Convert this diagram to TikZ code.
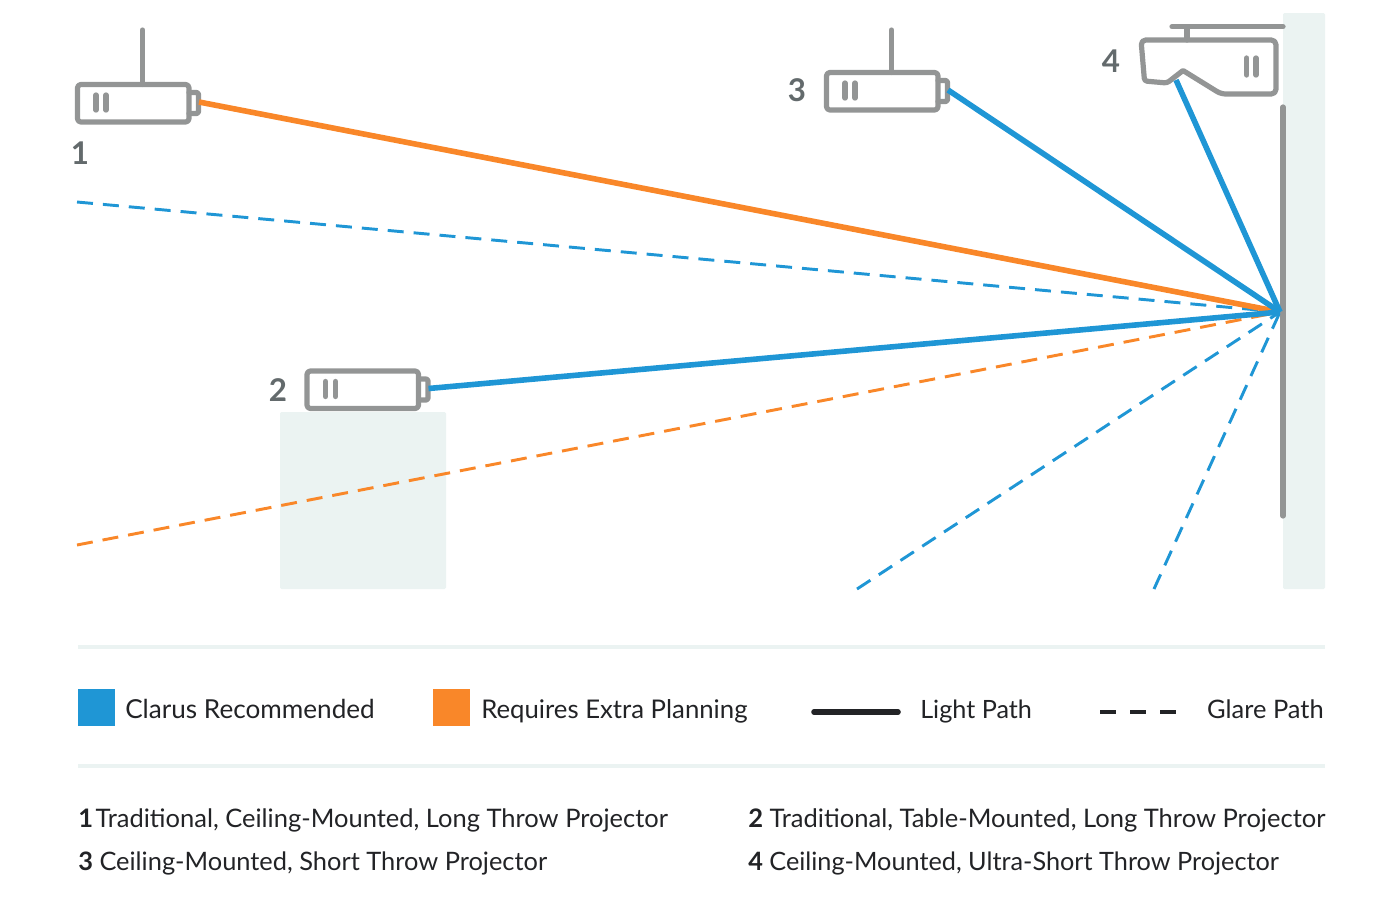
\documentclass[tikz,border=0pt]{standalone}
\usepackage{fontspec}
\setmainfont{Lato}
\definecolor{clblue}{HTML}{1F96D5}
\definecolor{clorange}{HTML}{F98729}
\definecolor{clgray}{HTML}{939595}
\definecolor{clpale}{HTML}{EBF3F2}
\definecolor{cllabel}{HTML}{636A6C}
\definecolor{cltext}{HTML}{222326}
\tikzset{
  outline/.style={draw=clgray,line width=3.9pt,line join=round,line cap=round,rounded corners=2.5pt},
  barline/.style={draw=clgray,line width=4pt,line cap=round},
  lightpath/.style={line width=4.2pt},
  glarepath/.style={line width=2.2pt,dash pattern=on 12pt off 7.5pt},
  numlabel/.style={anchor=base,font=\fontsize{23.5}{25}\selectfont\bfseries,text=cllabel,inner sep=0pt},
  legendtext/.style={anchor=base west,font=\fontsize{#1}{22}\selectfont,text=cltext,inner sep=0pt},
  legendtext/.default=19.6,
  swatch/.style={anchor=north west,minimum width=27.75pt,minimum height=27.75pt,inner sep=0pt,draw=none},
  panel/.style={fill=clpale,rounded corners=1pt,draw=none},
  divider/.style={draw=clpale,line width=3.6pt},
}
\newcommand{\projbody}[3]{%
  \begin{scope}[shift={(#1,#2)}]
    \draw[outline] (77.5,84.5) rectangle (189,122);
    \draw[outline,rounded corners=1.5pt] (189,92.5) -- (198.5,92.5) -- (198.5,113.5) -- (189,113.5);
    \draw[barline] (96,95) -- (96,110);
    \draw[barline] (106,95) -- (106,110);
    \coordinate (#3) at (199,102);
  \end{scope}}
\begin{document}
\begin{tikzpicture}[x=0.75pt,y=-0.75pt]
\useasboundingbox (0,0) rectangle (1400,900);
% wall and table
\fill[panel] (1283,13) rectangle (1325,589);
\fill[panel] (280,412) rectangle (446,589);
\coordinate (focus) at (1280,312);
% glare ends
\coordinate (g1) at (77,202);
\coordinate (g2) at (77,545);
\coordinate (g3) at (857,589);
\coordinate (g4) at (1154,589);
% projectors
\projbody{0}{0}{lens1}
\draw[outline] (142.5,30) -- (142.5,84.5);
\projbody{229.5}{286.5}{lens2}
\projbody{749}{-12}{lens3}
\draw[outline] (891.5,30) -- (891.5,72.5);
% projector 4
\draw[outline,rounded corners=3.5pt] (1141,40) -- (1276,40) -- (1276,94) -- (1221,94) [rounded corners=0.5pt] -- (1183,70.5) [rounded corners=2pt] -- (1167,83) -- (1144.5,81) [rounded corners=3.5pt] -- cycle;
\draw[barline] (1246.7,58) -- (1246.7,75);
\draw[barline] (1256,58) -- (1256,75);
\draw[outline] (1172,26.7) -- (1283,26.7);
\draw[outline] (1187,26.7) -- (1187,40);
\coordinate (lens4) at (1176,80);
% glare paths
\draw[glarepath,clblue] (g1) -- (focus);
\draw[glarepath,clorange] (g2) -- (focus);
\draw[glarepath,clblue] (g3) -- (focus);
\draw[glarepath,clblue] (g4) -- (focus);
% screen
\draw[draw=clgray,line width=3.9pt,line cap=round] (1283,107) -- (1283,516);
% light paths
\draw[lightpath,clorange] (lens1) -- (focus);
\draw[lightpath,clblue] (lens3) -- (focus);
\draw[lightpath,clblue] (lens4) -- (focus);
\draw[lightpath,clblue] (lens2) -- (focus);
% number labels
\node[numlabel] (n1) at (80,164) {1};
\node[numlabel] (n2) at (278,401) {2};
\node[numlabel] (n3) at (797,101) {3};
\node[numlabel] (n4) at (1111,72) {4};
% legend
\draw[divider] (78,647) -- (1325,647);
\node[swatch,fill=clblue] (sb) at (78,689) {};
\node[legendtext] (tb) at (125,718) {Clarus Recommended};
\node[swatch,fill=clorange] (so) at (433,689) {};
\node[legendtext=19.3] (to) at (481,718) {Requires Extra Planning};
\coordinate (la) at (814,712);
\coordinate (lb) at (898,712);
\draw[line width=4.2pt,line cap=round,cltext] (la) -- (lb);
\node[legendtext=18.9] (tl) at (920,718) {Light Path};
\coordinate (da) at (1100,712);
\coordinate (db) at (1176,712);
\draw[line width=2.5pt,dash pattern=on 12pt off 10.5pt,cltext] (da) -- (db);
\node[legendtext=19.1,anchor=base east] (tg) at (1324,718) {Glare Path};
\draw[divider] (78,766) -- (1325,766);
% key
\node[legendtext=19.12] (k1) at (78,827) {\textbf{1}\hspace{-3pt} Traditional, Ceiling-Mounted, Long Throw Projector};
\node[legendtext=19.15] (k2) at (748,827) {\textbf{2} Traditional, Table-Mounted, Long Throw Projector};
\node[legendtext=19.05] (k3) at (78,870) {\textbf{3} Ceiling-Mounted, Short Throw Projector};
\node[legendtext=18.95] (k4) at (748,870) {\textbf{4} Ceiling-Mounted, Ultra-Short Throw Projector};
\end{tikzpicture}
\end{document}
